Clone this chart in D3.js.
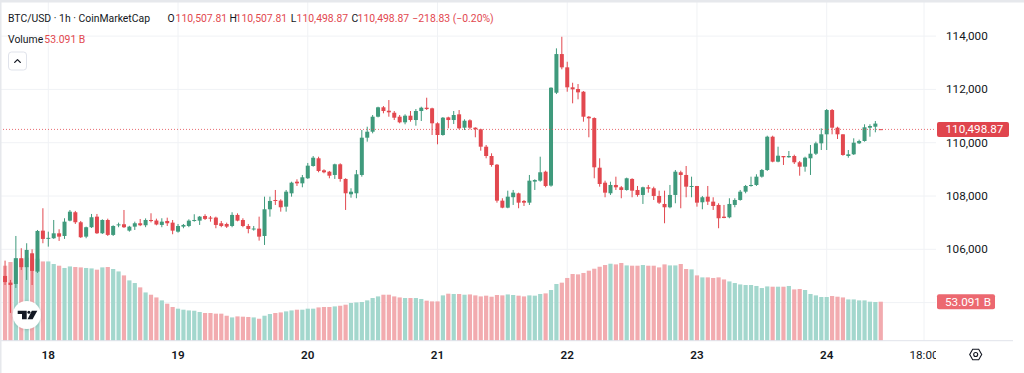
<!DOCTYPE html>
<html>
<head>
<meta charset="utf-8">
<script src="https://cdn.jsdelivr.net/npm/d3@7"></script>
<style>
html,body{margin:0;padding:0;background:#fff;}
svg{display:block;font-family:Roboto,"Noto Sans",sans-serif;}
</style>
</head>
<body>
<svg id="chart" width="1024" height="373"></svg>
<script>
// ---------- data (hourly BTC/USD candles) ----------
const startTime = new Date(2025, 9, 17, 16); // first candle: 17th 16:00
const openP = [105000,104750,104700,105665,105330,105850,105163,106700,106410,106415,
106600,106500,107075,107390,107015,106475,106828,107225,106602,107100,
106540,106910,106940,106700,106850,106977,106902,107100,107080,106914,
107063,107000,106662,106850,106875,107063,107075,107250,107190,107190,
106977,106950,106875,107290,107100,106875,106763,106775,106500,107502,
107850,107827,107600,108100,108537,108475,108665,109126,109415,108965,
108912,108789,109190,108640,108065,108102,108789,110188,110412,110975,
111328,111200,111125,110975,110765,111013,110851,111189,111313,111290,
110728,110289,110950,110851,111065,110563,110840,110563,110503,109850,
109501,109175,107825,107562,107955,108100,107814,107750,108540,108575,
108912,108390,111875,113326,112828,112078,112014,111913,110975,110925,
109062,108500,108102,108414,108327,108226,108640,108226,108039,108327,
108290,108001,107701,107577,108039,108890,108789,108350,108376,107765,
107975,107788,107664,107225,107201,107664,107851,108162,108376,108414,
108725,108976,110225,109288,109501,109452,109501,109265,109100,109415,
109587,109977,110315,111226,110563,110315,109501,109565,109977,110064,
110563,110600,110507.81];
const highP = [105575,104850,106500,106040,106227,106000,106725,107540,106662,107100,
106752,107165,107475,107440,107063,106850,107326,107326,107125,107150,
106900,107000,107475,106880,107037,107137,107160,107352,107150,107165,
107187,107100,106950,106950,107125,107315,107250,107315,107250,107225,
107063,107000,107390,107350,107165,106950,106875,107225,107975,107975,
108226,107877,108226,108537,108627,108789,109240,109500,109475,109002,
108940,109212,109227,108665,108290,108976,110476,110600,111039,111350,
111376,111601,111189,111039,111065,111189,111264,111350,111688,111313,
110765,110964,110975,111189,111226,110877,110877,110578,110525,109914,
109602,109201,107915,108200,108226,108125,107850,108789,108627,109475,
108950,112077,113540,113975,113038,112250,112201,111939,111000,110952,
109415,108575,108537,108725,108376,108690,108665,108376,108350,108414,
108350,108200,108200,108414,108976,108950,109126,108725,108376,108001,
108376,107952,107727,107664,107915,107915,108226,108414,108725,108815,
109014,110263,110263,109850,109501,109689,109550,109315,109475,109914,
110038,110540,111264,111264,110600,110315,109726,110165,110115,110690,
110690,110814,110507.81];
const lowP = [104660,103613,104550,105225,104850,104660,105113,106227,106100,106390,
106314,106390,107050,106950,106425,106415,106800,106575,106575,106500,
106500,106828,106800,106662,106725,106870,106830,107010,106900,106828,
106875,106565,106625,106790,106830,107037,106914,107100,107037,106790,
106828,106800,106828,107050,106828,106600,106700,106325,106163,107225,
107664,107412,107412,107975,108376,108327,108640,109100,108890,108852,
108665,108640,108537,107476,107937,107915,108725,110038,110352,110950,
111103,110975,110851,110727,110690,110788,110638,110814,111226,110289,
109940,110263,110540,110700,110503,110476,110500,110203,109700,109415,
109100,107750,107540,107540,107664,107540,107625,107664,108226,108537,
108327,108350,111826,112753,111913,111478,111628,110788,110203,108665,
108350,107952,108039,108226,107915,108200,107952,107975,107701,108125,
107851,107701,106977,107540,107727,107540,107952,107952,107600,107502,
107664,107476,106790,107165,107165,107577,107825,108102,108350,108376,
108690,108939,109265,109265,109164,109437,109200,108762,108912,108789,
109539,109726,109726,110315,110139,109512,109437,109539,109950,110038,
110225,110390,110498.87];
const closeP = [104770,104663,105665,105330,105976,105190,106689,106389,106430,106600,
106475,107037,107412,107015,106452,106828,107203,106602,107100,106540,
106875,106935,106828,106850,106977,106902,107100,107060,106930,107037,
106977,106700,106875,106914,107075,107100,107225,107140,107150,106914,
106875,106850,107290,107075,106875,106763,106780,106475,107502,107814,
107814,107577,108162,108500,108475,108702,109138,109437,108939,108890,
108762,109190,108640,108102,108162,108815,110188,110412,110975,111328,
111189,111140,110938,110765,111013,110851,111189,111313,111264,110728,
110289,110938,110851,111039,110540,110825,110563,110503,109850,109501,
109164,107825,107562,107975,108125,107750,107750,108575,108600,108890,
108376,112063,113326,112828,112078,112003,111890,110975,110915,109077,
108451,108125,108414,108327,108226,108665,108200,108039,108327,108275,
108001,107750,107577,108039,108912,108789,108350,108376,107750,107952,
107788,107626,107165,107175,107701,107851,108162,108376,108414,108725,
108976,110225,109288,109512,109452,109501,109265,109100,109437,109587,
109977,110315,111226,110563,110315,109539,109565,110000,110064,110578,
110626,110717.70,110498.87];
const volumeB = [102.1,107.1,112.3,111.6,113.0,111.6,111.6,107.9,107.9,104.4,
102.1,99.0,101.1,100.3,99.8,99.0,98.4,96.7,99.8,100.3,
97.6,94.3,88.9,82.1,78.5,72.6,65.7,62.6,58.9,54.9,
50.4,45.9,43.6,42.2,41.2,40.8,39.1,37.7,37.7,36.8,
36.8,34.0,31.7,33.1,32.7,32.3,31.7,29.9,34.0,36.3,
37.7,38.5,39.9,41.2,42.2,42.2,43.6,43.6,45.3,45.9,
45.9,46.7,47.6,49.0,51.3,52.1,52.7,54.9,58.1,60.3,
62.6,62.6,60.3,58.9,58.1,58.1,58.1,56.8,54.5,53.5,
53.5,61.7,64.0,63.6,63.6,62.6,63.0,61.7,60.3,61.3,
59.9,62.2,61.7,63.0,62.2,61.3,60.3,61.7,61.3,63.6,
64.4,69.0,77.2,79.0,85.4,90.8,90.3,92.2,95.3,98.0,
100.7,103.0,104.8,103.9,105.8,102.5,102.1,102.1,103.0,102.1,
102.1,99.8,103.9,102.5,102.5,104.4,97.6,97.1,88.9,86.2,
86.2,85.4,86.2,83.4,80.7,78.5,76.6,75.8,75.8,74.5,
71.7,73.9,73.5,73.5,73.5,74.5,69.8,70.4,69.0,63.6,
61.7,59.5,59.5,60.8,59.9,58.9,56.2,56.2,54.9,54.9,
53.1,52.7,53.091];
const gridPrices = [104000,106000,108000,110000,112000,114000];
const labelPrices = [106000,108000,110000,112000,114000];
const dayTicks = [new Date(2025,9,18),new Date(2025,9,19),new Date(2025,9,20),new Date(2025,9,21),
                  new Date(2025,9,22),new Date(2025,9,23),new Date(2025,9,24)];
const dayLabels = ["18","19","20","21","22","23","24"];
const hourTicks = [new Date(2025,9,24,18)];
const hourLabels = ["18:00"];
const symbolTitle = "BTC/USD · 1h · CoinMarketCap";

// ---------- colours ----------
const UP = "#3f9a7c", DOWN = "#e2484f";
const UP_VOL = "#a3d7cd", DOWN_VOL = "#f2abaf";
const TXT = "#131722", GRID = "#f0f2f5";

// ---------- layout ----------
const plotRight = 936, axisBottom = 340.7;
const times = openP.map((_, i) => d3.timeHour.offset(startTime, i));
const candles = times.map((t, i) => ({t, o: openP[i], h: highP[i], l: lowP[i], c: closeP[i], v: volumeB[i]}));

const x = d3.scaleTime().domain([dayTicks[0], dayTicks[6]]).range([48.3, 826.7]);
const y = d3.scaleLinear().domain([104000, 114000]).range([302.6, 36.1]);
const yv = d3.scaleLinear().domain([0, 100]).range([axisBottom, axisBottom - 73.46]);

const svg = d3.select("#chart");
svg.append("rect").attr("width", 1024).attr("height", 373).attr("fill", "#fff");

const defs = svg.append("defs");
defs.append("clipPath").attr("id", "plotClip").append("rect")
  .attr("x", 0).attr("y", 0).attr("width", plotRight).attr("height", 373);
const sh = defs.append("filter").attr("id", "shadow").attr("x", "-50%").attr("y", "-50%").attr("width", "200%").attr("height", "200%");
sh.append("feDropShadow").attr("dx", 0).attr("dy", 0.5).attr("stdDeviation", 1.6).attr("flood-color", "#000").attr("flood-opacity", 0.18);

// grid
const grid = svg.append("g").attr("clip-path", "url(#plotClip)");
grid.selectAll("line.h").data(gridPrices).join("line")
  .attr("x1", 0).attr("x2", plotRight).attr("y1", d => y(d)).attr("y2", d => y(d))
  .attr("stroke", GRID).attr("stroke-width", 1);
grid.selectAll("line.v").data(dayTicks.concat(hourTicks)).join("line")
  .attr("x1", d => x(d)).attr("x2", d => x(d)).attr("y1", 0).attr("y2", axisBottom)
  .attr("stroke", GRID).attr("stroke-width", 1);

// volume
svg.append("g").selectAll("rect").data(candles).join("rect")
  .attr("x", d => x(d.t) - 2.1).attr("width", 4.2)
  .attr("y", d => yv(d.v)).attr("height", d => axisBottom - yv(d.v))
  .attr("fill", d => d.c >= d.o ? UP_VOL : DOWN_VOL);

// candles
const cg = svg.append("g");
cg.selectAll("line").data(candles).join("line")
  .attr("x1", d => x(d.t)).attr("x2", d => x(d.t))
  .attr("y1", d => y(d.h)).attr("y2", d => y(d.l))
  .attr("stroke", d => d.c >= d.o ? UP : DOWN).attr("stroke-width", 1);
cg.selectAll("rect").data(candles).join("rect")
  .attr("x", d => x(d.t) - 2).attr("width", 4)
  .attr("y", d => y(Math.max(d.o, d.c)))
  .attr("height", d => Math.max(1, Math.abs(y(d.o) - y(d.c))))
  .attr("fill", d => d.c >= d.o ? UP : DOWN);

// last price line
const last = candles[candles.length - 1];
const prev = candles[candles.length - 2];
svg.append("line").attr("x1", 0).attr("x2", plotRight).attr("y1", y(last.c)).attr("y2", y(last.c))
  .attr("stroke", DOWN).attr("stroke-width", 1).attr("stroke-dasharray", "1,2").attr("opacity", 0.8);

// time axis line
svg.append("line").attr("x1", 0).attr("x2", 1013).attr("y1", axisBottom).attr("y2", axisBottom)
  .attr("stroke", "#e0e3eb").attr("stroke-width", 1);

// price axis labels
svg.append("g").selectAll("text").data(labelPrices).join("text")
  .attr("x", 946).attr("y", d => y(d)).attr("dominant-baseline", "central")
  .attr("font-size", 11.7).attr("fill", TXT)
  .text(d => d3.format(",")(d));

// last price tag
const fmt2 = d3.format(",.2f");
svg.append("rect").attr("x", 937).attr("y", y(last.c) - 7.5).attr("width", 72).attr("height", 15).attr("rx", 2)
  .attr("fill", "#e0454d");
svg.append("text").attr("x", 945.5).attr("y", y(last.c)).attr("dominant-baseline", "central")
  .attr("font-size", 11.7).attr("fill", "#fff").text(fmt2(last.c));

// volume tag
const volTxt = d3.format(".3f")(last.v) + " B";
svg.append("rect").attr("x", 937).attr("y", yv(last.v) - 7.5).attr("width", 58).attr("height", 15).attr("rx", 2)
  .attr("fill", "#ec6870");
svg.append("text").attr("x", 945).attr("y", yv(last.v)).attr("dominant-baseline", "central")
  .attr("font-size", 11.7).attr("fill", "#fff").text(volTxt);

// time labels (clipped at the price scale)
const tl = svg.append("g").attr("clip-path", "url(#plotClip)");
tl.selectAll("text.d").data(dayTicks).join("text")
  .attr("x", d => x(d)).attr("y", 354.5).attr("text-anchor", "middle").attr("dominant-baseline", "central")
  .attr("font-size", 11.7).attr("font-weight", 600).attr("fill", TXT)
  .text((d, i) => dayLabels[i]);
tl.selectAll("text.h").data(hourTicks).join("text")
  .attr("x", d => x(d)).attr("y", 354.5).attr("text-anchor", "middle").attr("dominant-baseline", "central")
  .attr("font-size", 11.7).attr("fill", TXT)
  .text((d, i) => hourLabels[i]);

// settings icon
const gear = svg.append("g").attr("transform", "translate(975.7,354.5)");
const hex = d3.range(6).map(k => { const a = Math.PI / 3 * k; return [6 * Math.cos(a), 6 * Math.sin(a)]; });
gear.append("path").attr("d", d3.line()(hex) + "Z").attr("fill", "none").attr("stroke", TXT).attr("stroke-width", 1.1);
gear.append("circle").attr("r", 2).attr("fill", "none").attr("stroke", TXT).attr("stroke-width", 1.1);

// TradingView badge
const badge = svg.append("g");
badge.append("circle").attr("cx", 26.8).attr("cy", 315).attr("r", 14).attr("fill", "#fff").attr("filter", "url(#shadow)");
badge.append("path").attr("fill", TXT)
  .attr("d", "M17.7,310.7H26.7V319.3H22V314H17.7Z");
badge.append("circle").attr("cx", 28.9).attr("cy", 312.2).attr("r", 1.5).attr("fill", TXT);
badge.append("path").attr("fill", TXT).attr("d", "M31.8,310.7H37.3L32.6,319.3H27.6Z");

// header legend
const change = last.c - prev.c;
const pct = change / prev.c * 100;
const legend = [
  {t: symbolTitle, x: 8, c: TXT},
  {t: "O", x: 167.5, c: TXT}, {t: fmt2(last.o), x: 175.6, c: DOWN},
  {t: "H", x: 229.6, c: TXT}, {t: fmt2(last.h), x: 235.6, c: DOWN},
  {t: "L", x: 290.8, c: TXT}, {t: fmt2(last.l), x: 296.6, c: DOWN},
  {t: "C", x: 351.4, c: TXT}, {t: fmt2(last.c), x: 357.6, c: DOWN},
  {t: d3.format(".2f")(change) + " (" + d3.format(".2f")(pct).replace("-", "−") + "%)", x: 412.3, c: DOWN}
];
svg.append("g").selectAll("text").data(legend).join("text")
  .attr("x", d => d.x).attr("y", 18).attr("dominant-baseline", "central")
  .attr("font-size", 10.4).attr("fill", d => d.c).text(d => d.t);
svg.append("text").attr("x", 8).attr("y", 39.5).attr("dominant-baseline", "central")
  .attr("font-size", 10.4).attr("fill", TXT).text("Volume");
svg.append("text").attr("x", 44.3).attr("y", 39.5).attr("dominant-baseline", "central")
  .attr("font-size", 10.4).attr("fill", DOWN).text(volTxt);

// collapse button
svg.append("rect").attr("x", 8.5).attr("y", 52).attr("width", 18).attr("height", 18).attr("rx", 3)
  .attr("fill", "#fff").attr("stroke", "#e0e3eb");
svg.append("path").attr("d", "M14.7,62.4L17.5,59.6L20.3,62.4").attr("fill", "none")
  .attr("stroke", TXT).attr("stroke-width", 1.3).attr("stroke-linecap", "round").attr("stroke-linejoin", "round");

// frame edges
svg.append("rect").attr("x", 0).attr("y", 0).attr("width", 1024).attr("height", 2.5).attr("fill", "#e6e8ec");
svg.append("rect").attr("x", 0).attr("y", 0).attr("width", 1.5).attr("height", 373).attr("fill", "#e6e8ec");
</script>
</body>
</html>
